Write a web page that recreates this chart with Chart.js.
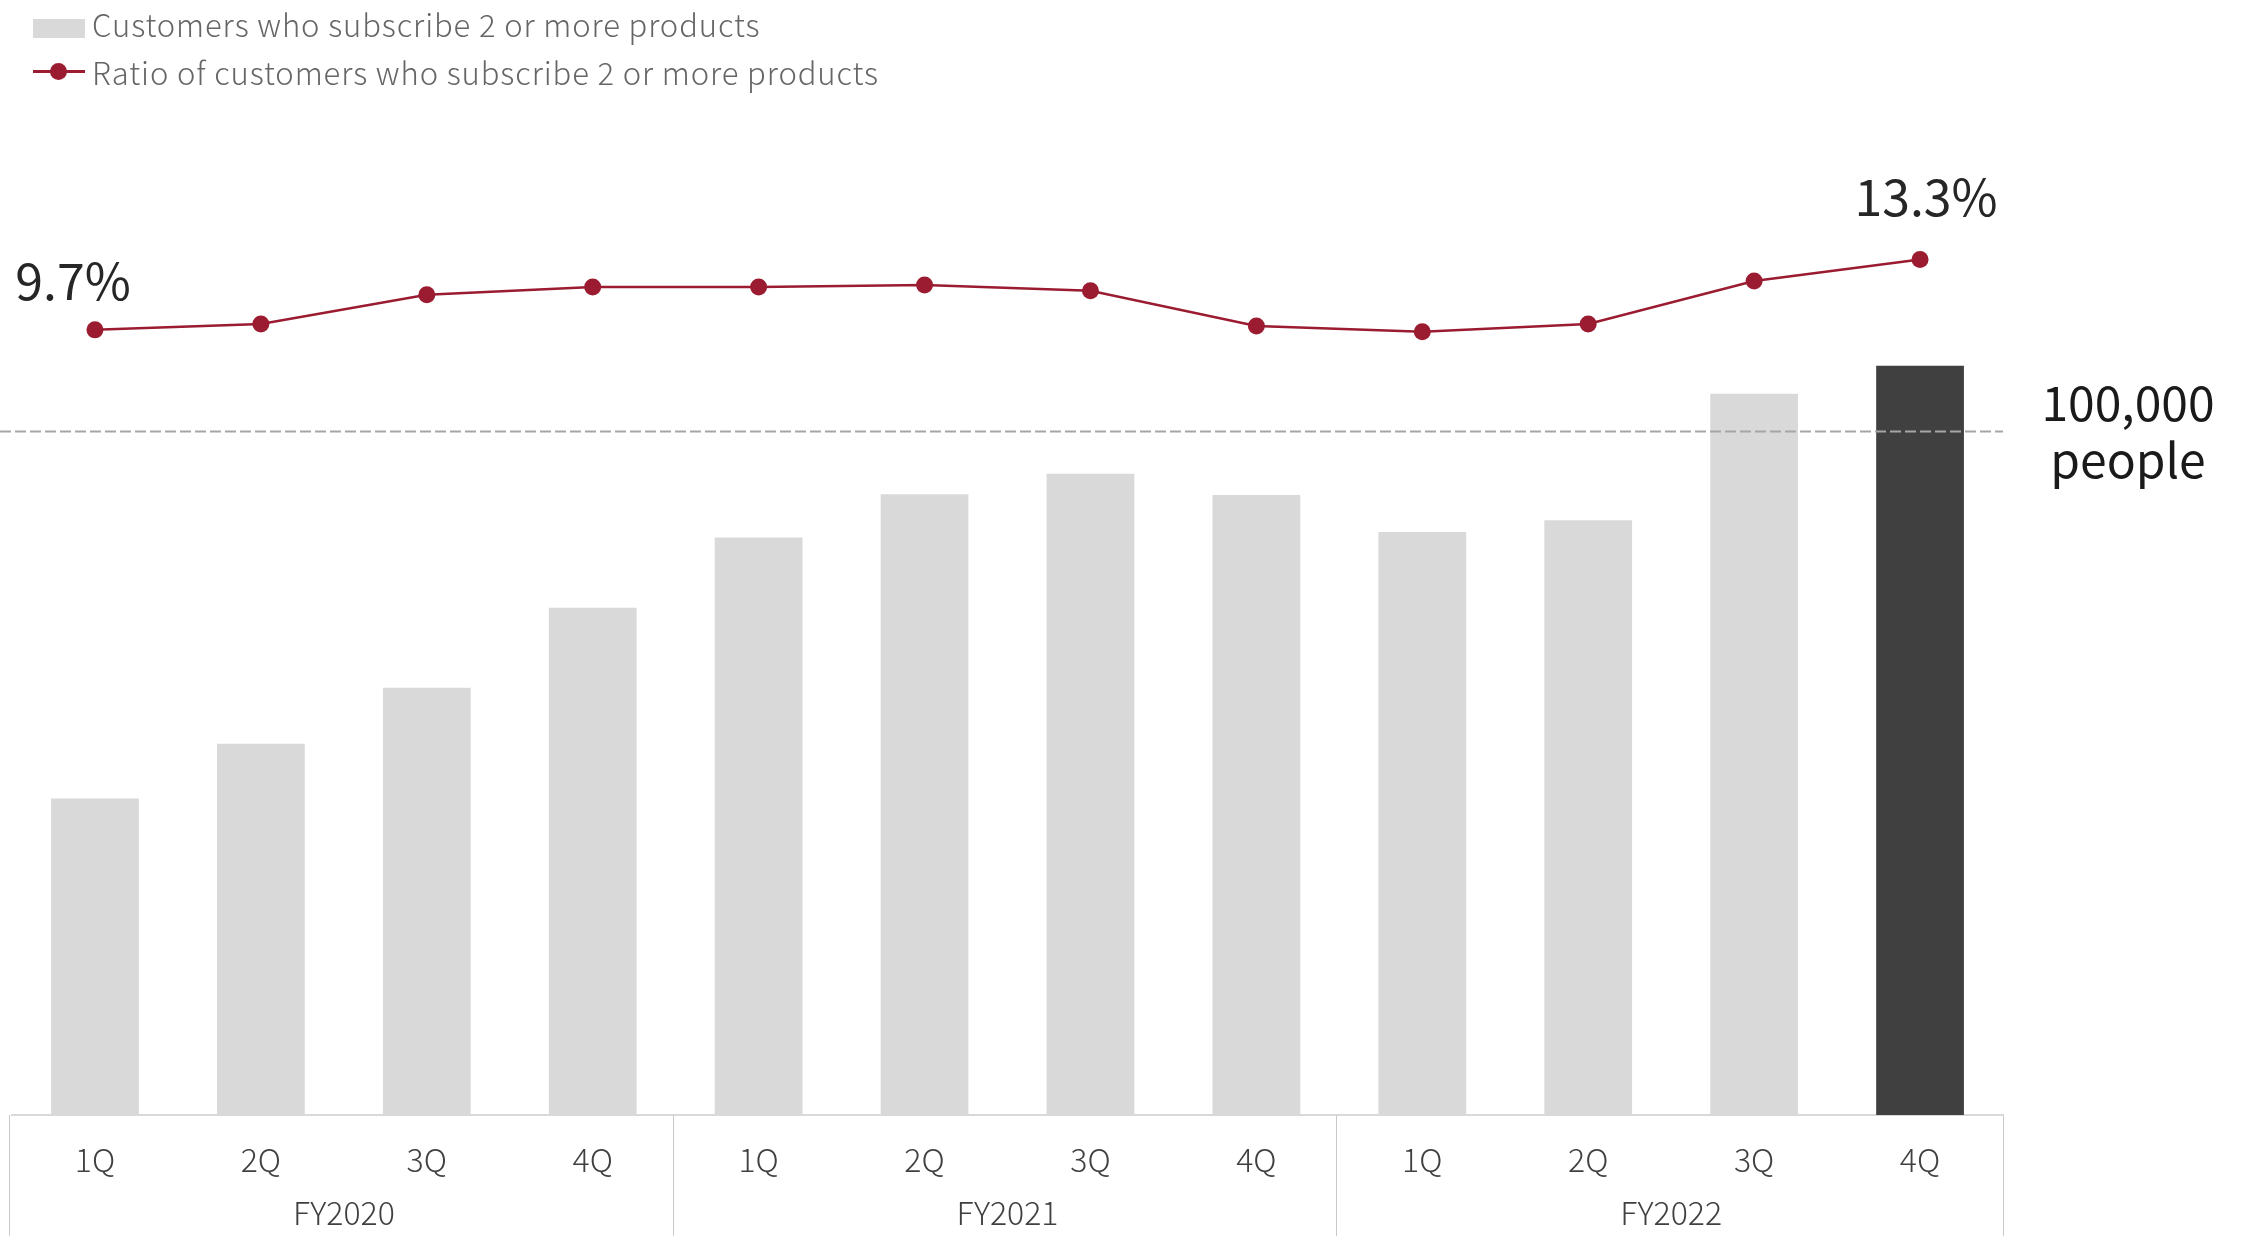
<!DOCTYPE html>
<html>
<head>
<meta charset="utf-8">
<title>Customers who subscribe 2 or more products</title>
<script src="https://cdn.jsdelivr.net/npm/chart.js@4/dist/chart.umd.min.js"></script>
<style>
  html, body { margin: 0; padding: 0; background: #ffffff; overflow: hidden; }
  #wrap { position: relative; width: 2247px; height: 1236px; }
  #chart { position: absolute; left: 0; top: 0; }
  .legend { position: absolute; left: 0; top: 0; font-family: "Noto Sans CJK JP", "Noto Sans", sans-serif; font-weight: 300; font-size: 31px; letter-spacing: 0.9px; color: #666666; }
  .legend .item { position: absolute; left: 33px; height: 40px; display: flex; align-items: center; white-space: nowrap; }
  .legend .txt { position: relative; }
  .legend #leg0 .txt { top: -5px; }
  .legend .swatch { width: 52px; height: 19px; background: #d9d9d9; margin-right: 7px; }
  .legend .lineSym { position: relative; width: 52px; height: 20px; margin-right: 7px; }
  .legend .lineSym::before { content: ""; position: absolute; left: 0; right: 0; top: 8.5px; height: 3px; background: #9b1c31; }
  .legend .lineSym::after { content: ""; position: absolute; left: 17px; top: 1.5px; width: 17px; height: 17px; border-radius: 50%; background: #9b1c31; }
</style>
</head>
<body>
<div id="wrap">
  <canvas id="chart" width="2247" height="1236"></canvas>
  <div class="legend">
    <div class="item" id="leg0" style="top:8px"><span class="swatch"></span><span class="txt"></span></div>
    <div class="item" id="leg1" style="top:51px"><span class="lineSym"></span><span class="txt"></span></div>
  </div>
</div>
<script>
// Quarter categories and the fiscal years they belong to
const quarters = ['1Q', '2Q', '3Q', '4Q', '1Q', '2Q', '3Q', '4Q', '1Q', '2Q', '3Q', '4Q'];
const fiscalYears = ['FY2020', 'FY2021', 'FY2022'];
const quartersPerYear = 4;

// Number of customers subscribing 2 or more products (people)
const customers = [46300, 54300, 62500, 74200, 84500, 90800, 93800, 90700, 85300, 87000, 105500, 109600];

// Share of those customers (%)
const ratio = [9.7, 10.0, 11.5, 11.9, 11.9, 12.0, 11.7, 9.9, 9.6, 10.0, 12.2, 13.3];

// Reference level marked with a dashed line
const referenceLevel = 100000;
const referenceLabel = ['100,000', 'people'];

const seriesNames = ['Customers who subscribe 2 or more products', 'Ratio of customers who subscribe 2 or more products'];

const FONT = '"Noto Sans CJK JP", "Noto Sans", sans-serif';
const BAR_LIGHT = '#d9d9d9';
const BAR_DARK = '#404040';
const LINE_RED = '#9b1c31';

document.querySelector('#leg0 .txt').textContent = seriesNames[0];
document.querySelector('#leg1 .txt').textContent = seriesNames[1];

const barColors = customers.map((_, i) => i === customers.length - 1 ? BAR_DARK : BAR_LIGHT);

// Draws the reference line, value labels, fiscal-year groups and separators
const annotations = {
  id: 'annotations',
  afterDatasetsDraw(chart) {
    const { ctx, chartArea, scales } = chart;
    const x = scales.x;
    ctx.save();

    // dashed reference line across the plot
    const yRef = scales.y.getPixelForValue(referenceLevel);
    ctx.strokeStyle = '#a6a6a6';
    ctx.lineWidth = 2;
    ctx.setLineDash([11, 4]);
    ctx.beginPath();
    ctx.moveTo(0, yRef);
    ctx.lineTo(chartArea.right, yRef);
    ctx.stroke();
    ctx.setLineDash([]);

    // reference label on the right
    ctx.fillStyle = '#1a1a1a';
    ctx.font = '48px ' + FONT;
    ctx.textAlign = 'center';
    ctx.textBaseline = 'alphabetic';
    const refX = chartArea.right + 125;
    ctx.fillText(referenceLabel[0], refX, yRef - 10);
    ctx.fillText(referenceLabel[1], refX, yRef + 47);

    // first and last ratio values
    const pts = chart.getDatasetMeta(1).data;
    const first = pts[0];
    const last = pts[pts.length - 1];
    ctx.fillStyle = '#262626';
    ctx.font = '50px ' + FONT;
    ctx.fillText(ratio[0].toFixed(1) + '%', first.x - 22, first.y - 30);
    ctx.fillText(ratio[ratio.length - 1].toFixed(1) + '%', last.x + 6, last.y - 44);

    // fiscal-year separators and labels below the axis
    const bottom = chart.height;
    const top = chartArea.bottom;
    const half = (x.getPixelForTick(1) - x.getPixelForTick(0)) / 2;
    ctx.strokeStyle = '#c8c8c8';
    ctx.lineWidth = 1;
    for (let g = 0; g <= fiscalYears.length; g++) {
      let px;
      if (g === 0) px = chartArea.left - 3;
      else if (g === fiscalYears.length) px = chartArea.right;
      else px = x.getPixelForTick(g * quartersPerYear) - half - 3;
      px = Math.round(px) + 0.5;
      ctx.beginPath();
      ctx.moveTo(px, top);
      ctx.lineTo(px, bottom);
      ctx.stroke();
    }
    ctx.fillStyle = '#404040';
    ctx.font = '300 32px ' + FONT;
    ctx.textBaseline = 'middle';
    fiscalYears.forEach((fy, g) => {
      const a = x.getPixelForTick(g * quartersPerYear);
      const b = x.getPixelForTick(g * quartersPerYear + quartersPerYear - 1);
      ctx.fillText(fy, (a + b) / 2, 1213);
    });
    ctx.restore();
  }
};

new Chart(document.getElementById('chart'), {
  data: {
    labels: quarters,
    datasets: [
      {
        type: 'bar',
        label: seriesNames[0],
        data: customers,
        backgroundColor: barColors,
        borderWidth: 0,
        categoryPercentage: 1,
        barPercentage: 0.529,
        yAxisID: 'y',
        order: 1
      },
      {
        type: 'line',
        label: seriesNames[1],
        data: ratio,
        borderColor: LINE_RED,
        backgroundColor: LINE_RED,
        borderWidth: 2.5,
        pointRadius: 8.5,
        pointBorderWidth: 0,
        pointBackgroundColor: LINE_RED,
        tension: 0,
        yAxisID: 'y1',
        order: 0
      }
    ]
  },
  options: {
    responsive: false,
    animation: false,
    devicePixelRatio: 1,
    layout: { padding: { left: 12, right: 244, top: 158, bottom: 0 } },
    plugins: {
      legend: { display: false },
      tooltip: { enabled: false }
    },
    scales: {
      x: {
        grid: { display: false, drawTicks: false },
        border: { display: true, color: '#d9d9d9', width: 2 },
        ticks: {
          font: { family: FONT, size: 32, weight: 300 },
          color: '#404040',
          padding: 26,
          maxRotation: 0,
          autoSkip: false
        },
        afterFit(scale) { scale.height = 121; }
      },
      y: { display: false, min: 0, max: 140000 },
      y1: { display: false, min: -30.5, max: 18.5 }
    }
  },
  plugins: [annotations]
});
</script>
</body>
</html>
